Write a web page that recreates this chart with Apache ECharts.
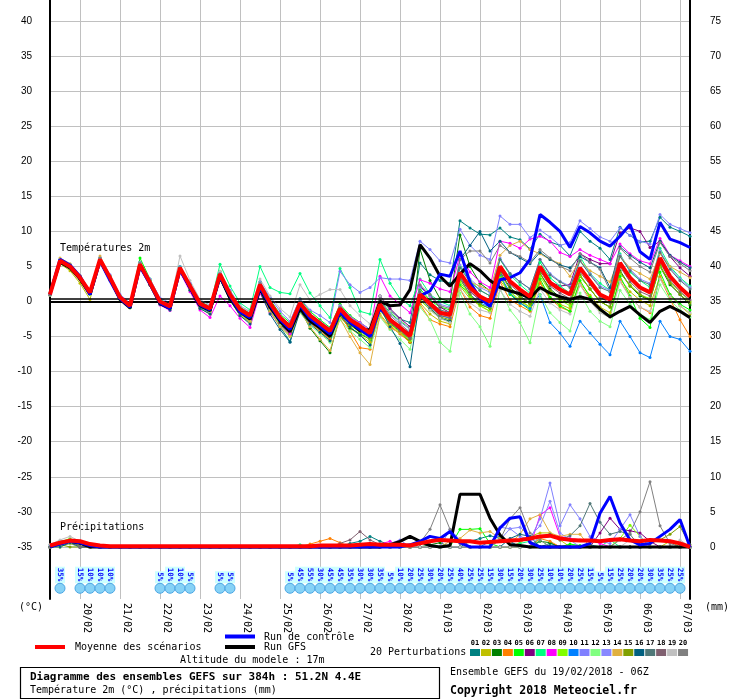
<!DOCTYPE html>
<html><head><meta charset="utf-8">
<script src="https://cdn.jsdelivr.net/npm/echarts@6/dist/echarts.min.js"></script>
<style>html,body{margin:0;padding:0;background:#fff}#c{width:740px;height:700px}</style>
</head><body><div id="c"></div>
<script>
// ---------- DATA ----------
const HOURS = [0,6,12,18,24,30,36,42,48,54,60,66,72,78,84,90,96,102,108,114,120,126,132,138,144,150,156,162,168,174,180,186,192,198,204,210,216,222,228,234,240,246,252,258,264,270,276,282,288,294,300,306,312,318,324,330,336,342,348,354,360,366,372,378,384];
const DAY_TICKS = [18,42,66,90,114,138,162,186,210,234,258,282,306,330,354,378];
const DAY_LABELS = ['20/02','21/02','22/02','23/02','24/02','25/02','26/02','27/02','28/02','01/03','02/03','03/03','04/03','05/03','06/03','07/03'];
const TEMP_TICKS = [-35,-30,-25,-20,-15,-10,-5,0,5,10,15,20,25,30,35,40];
const RIGHT_TICKS = [0,5,10,15,20,25,30,35,40,45,50,55,60,65,70,75];
const PERT_NAMES = ['01','02','03','04','05','06','07','08','09','10','11','12','13','14','15','16','17','18','19','20'];
const PERT_COLORS = ['#008080','#c0c000','#008000','#ff8000','#00ff00','#800080','#00ff80','#ff00ff','#80ff00','#0080ff','#8080ff','#80ff80','#8888ff','#e0b040','#80a000','#006080','#507878','#806070','#c0c0c0','#808080'];

// temperatures 2m (°C)
const T01 = [1.1,6.0,5.3,3.6,1.2,5.7,3.2,0.5,-0.8,5.0,2.4,-0.3,-1.0, 4.4,1.8,-0.8,-1.6,3.2,0.2,-1.8,-2.9,1.5,-1.3,-3.6,-5.7,-1.0, -2.8,-3.9,-5.2,-1.8,-3.2,-4.0,-5.1,0.8,-1.2,-2.5,-3.0,5.5,3.8, 3.0,2.6,11.5,10.5,9.6,9.5,10.5,9.2,8.8,7.5,9.6,8.5,8.0, 6.5,10.0,8.6,7.6,6.0,10.6,9.4,8.5,8.6,12.0,10.6,10.0,9.3];
const T02 = [0.9,5.4,4.4,2.6,0.3,5.6,3.0,0.3,-0.9,5.0,2.3,-0.4,-1.1, 4.3,1.6,-1.0,-1.8,3.4,0.2,-2.0,-3.0,1.6,-1.4,-3.4,-4.8,-1.0, -3.0,-4.2,-5.6,-2.2,-3.8,-4.8,-5.8,-1.8,-3.6,-4.6,-5.8,-0.2,-1.8, -2.8,-3.2,2.2,0.4,-0.6,-1.4,3.0,1.2,0.0,-0.8,2.8,0.6,-0.4, -1.0,2.6,0.9,-0.8,-1.6,3.2,1.4,0.2,-0.6,3.6,1.0,-0.6,-1.8];
const T03 = [1.0,5.6,4.9,3.4,1.4,6.1,3.6,0.8,-0.4,5.6,3.0,0.2,-0.6, 4.9,2.4,-0.2,-1.1,3.8,0.8,-1.4,-2.3,2.2,-0.8,-3.2,-4.6,-1.0, -3.8,-5.6,-7.3,-2.0,-3.8,-4.6,-5.4,-0.8,-3.2,-4.2,-5.8,7.5,3.0, 0.4,0.0,9.5,5.0,2.6,1.5,4.2,2.0,0.8,-0.3,4.0,1.8,0.6, 0.0,3.6,1.8,0.0,-0.8,4.4,2.2,0.8,0.2,5.0,2.4,1.0,-0.5];
const T04 = [1.0,5.5,4.8,3.2,1.1,5.9,3.3,0.6,-0.7,5.2,2.6,-0.1,-0.9, 4.6,2.0,-0.5,-1.3,3.6,0.6,-1.5,-2.4,2.0,-0.8,-3.0,-4.4,-1.2, -3.0,-4.2,-5.4,-1.6,-4.2,-6.6,-6.8,-1.0,-3.4,-4.6,-5.8,-0.4,-2.6, -3.2,-3.6,1.8,-0.8,-2.0,-2.4,2.8,0.2,-0.6,-1.4,2.6,0.4,-0.8, -1.4,2.4,0.4,-1.2,-2.0,3.0,0.6,-0.8,-1.6,3.4,0.4,-2.6,-5.0];
const T05 = [1.1,5.9,5.1,3.5,1.5,6.2,3.6,0.8,-0.4,6.2,3.2,0.3,-0.5, 5.0,2.4,0.0,-0.8,4.3,1.4,-0.8,-1.7,2.8,0.3,-1.8,-3.0,0.4, -1.4,-2.6,-3.7,-0.4,-2.0,-3.0,-4.0,0.2,-1.6,-2.8,-3.8,1.8,0.2, -0.8,-1.2,2.4,0.8,-0.4,-1.0,3.6,1.0,-0.2,-1.2,3.2,0.6,-0.6, -1.4,3.0,0.6,-1.2,-2.0,3.6,0.8,-2.4,-3.7,4.2,1.0,-0.4,-1.2];
const T06 = [1.0,5.7,4.9,3.3,1.2,5.9,3.2,0.5,-0.7,5.1,2.5,-0.2,-0.9, 4.5,1.9,-0.6,-1.4,3.5,0.6,-1.6,-2.5,1.8,-0.9,-3.0,-4.4,-0.8, -2.6,-3.8,-4.9,-1.4,-3.0,-4.0,-5.0,0.8,-1.0,-2.4,-3.6,2.2,0.8, -0.8,-1.6,3.4,1.4,0.2,-0.6,4.4,2.6,1.6,0.4,4.6,2.8,2.2, 2.4,6.8,6.0,5.4,5.4,9.8,10.5,10.0,7.7,8.6,6.4,4.8,3.6];
const T07 = [1.1,6.0,5.2,3.6,1.5,6.2,3.6,0.8,-0.5,5.6,3.0,0.3,-0.4, 5.0,2.5,0.0,-0.7,5.3,2.2,-0.2,-1.2,5.0,2.0,1.3,1.1,4.0, 1.2,-0.6,-2.3,4.7,2.0,-1.4,-1.8,6.0,2.6,0.4,-0.6,3.2,1.0, 0.0,-0.6,5.0,3.0,1.6,0.8,6.0,3.8,2.4,1.2,5.6,3.4,2.2, 1.2,6.4,4.0,2.6,1.6,6.8,4.2,3.0,2.0,7.6,5.0,3.4,2.2];
const T08 = [1.0,5.6,4.9,3.3,1.2,5.8,3.2,0.5,-0.8,5.0,2.4,-0.5,-1.3, 4.2,1.4,-1.2,-2.3,0.8,-0.6,-2.4,-3.7,1.2,-1.6,-3.4,-4.6,-0.6, -2.8,-3.8,-4.8,-0.6,-2.2,-3.0,-4.0,3.6,0.8,-0.4,-1.6,3.1,2.6, 1.8,1.4,6.6,4.2,2.8,2.0,8.6,8.3,7.6,8.9,9.3,8.6,7.0, 6.4,7.4,6.6,6.0,5.4,8.2,6.8,5.8,5.4,9.0,6.6,5.8,5.0];
const T09 = [1.0,5.8,5.0,3.5,1.4,6.1,3.5,0.7,-0.5,5.4,2.9,0.1,-0.6, 4.8,2.2,-0.4,-1.0,3.8,0.8,-1.4,-2.3,2.2,-0.6,-2.8,-4.2,-0.8, -2.6,-3.8,-5.0,-1.6,-3.4,-4.4,-5.4,-1.2,-3.2,-4.4,-5.6,0.2,-1.2, -2.4,-2.8,2.8,0.8,-0.6,-1.4,3.4,1.4,0.2,-0.8,3.6,1.4,0.2, -0.6,3.6,1.8,0.0,-0.8,4.0,2.4,1.0,0.4,5.0,2.8,1.4,0.0];
const T10 = [1.0,5.7,4.9,3.3,1.2,5.9,3.3,0.5,-0.7,5.2,2.6,-0.1,-0.8, 4.7,2.1,-0.5,-1.2,3.7,0.8,-1.3,-2.2,2.2,-0.6,-2.8,-4.0,-0.6, -2.4,-3.6,-4.8,-1.2,-3.0,-4.0,-5.0,-0.6,-2.8,-4.0,-5.2,0.6,-0.8, -2.0,-2.4,3.2,1.0,-0.2,-0.8,3.8,1.2,-0.2,-1.0,1.0,-3.0,-4.5, -6.4,-2.8,-4.5,-6.1,-7.6,-2.8,-5.0,-7.3,-8.0,-2.8,-5.0,-5.4,-7.1];
const T11 = [1.1,5.9,5.2,3.7,1.6,6.3,3.8,1.0,-0.2,5.6,3.2,0.5,-0.2, 5.0,2.6,0.2,-0.5,4.2,1.6,-0.6,-1.5,2.8,0.6,-1.4,-2.8,0.4, -1.2,-2.0,-3.0,4.3,2.4,1.3,2.0,3.4,3.2,3.2,3.0,8.6,7.4, 5.8,5.5,10.3,8.0,6.6,6.0,12.2,11.0,11.0,9.1,10.2,9.2,8.0, 8.4,11.5,10.4,9.2,8.6,10.5,9.4,8.6,8.2,12.4,11.0,10.4,9.8];
const T12 = [0.9,5.5,4.7,3.1,1.0,5.7,3.1,0.3,-0.9,5.0,2.4,-0.3,-1.0, 4.4,1.8,-0.7,-1.5,3.4,0.4,-1.8,-2.8,1.6,-1.2,-3.4,-5.0,-1.6, -3.4,-4.6,-5.8,-2.6,-4.2,-5.4,-6.6,-2.2,-4.0,-5.4,-6.8,-0.8,-2.6, -5.8,-7.1,1.2,-1.8,-3.6,-6.4,1.8,-1.2,-3.0,-5.9,1.0,-1.6,-3.0, -4.2,1.2,-1.4,-2.8,-3.6,1.6,-0.4,-1.8,-2.6,2.4,0.2,-1.2,-2.2];
const T13 = [1.0,5.9,5.1,3.5,1.4,6.1,3.5,0.7,-0.5,5.4,2.8,0.2,-0.5, 4.9,2.3,-0.2,-0.8,4.0,1.1,-0.9,-1.8,2.6,0.0,-2.0,-3.3,0.1, -1.7,-2.8,-3.8,-0.6,-2.2,-3.1,-4.0,0.2,-1.8,-2.9,-4.0,2.0,0.8, -0.4,-0.8,5.2,3.2,2.0,1.3,6.2,4.0,2.8,1.8,6.0,4.0,2.9, 2.2,5.8,4.0,2.2,1.6,6.6,4.6,3.2,2.6,7.2,4.8,3.2,2.0];
const T14 = [1.2,6.2,5.4,3.7,1.3,6.5,3.6,0.6,-0.7,5.2,2.6,-0.2,-0.9, 4.6,2.0,-0.6,-1.4,3.4,0.4,-1.8,-2.8,1.6,-1.4,-3.6,-5.0,-1.4, -3.6,-5.4,-7.0,-2.4,-5.0,-7.3,-9.0,-2.0,-3.8,-4.4,-5.0,0.6,-0.8, -1.8,-2.2,3.4,2.8,2.2,1.6,6.6,8.0,8.6,7.4,6.8,6.0,5.4, 3.6,5.8,4.4,3.6,2.8,6.4,4.8,4.0,3.2,6.8,5.0,4.2,3.4];
const T15 = [1.0,5.7,4.9,3.3,1.2,5.9,3.3,0.5,-0.7,5.2,2.6,-0.1,-0.8, 4.6,2.0,-0.5,-1.3,3.6,0.7,-1.4,-2.3,2.1,-0.6,-2.7,-4.0,-0.6, -2.5,-3.6,-4.8,-1.6,-3.2,-4.2,-5.2,-1.0,-3.0,-4.2,-5.4,0.4,-1.0, -2.2,-2.6,3.2,1.0,-0.4,-1.0,4.0,1.8,0.6,-0.4,4.0,1.6,0.4, -0.2,3.8,1.8,0.0,-0.8,4.2,2.2,1.0,0.2,5.2,2.6,1.0,-0.2];
const T16 = [1.0,5.6,4.8,3.2,1.1,5.8,3.2,0.4,-0.9,5.0,2.4,-0.4,-1.2, 4.4,1.6,-1.0,-1.8,3.2,0.2,-2.0,-3.2,1.4,-1.8,-4.0,-5.8,-1.4, -3.2,-4.4,-5.6,-1.8,-3.6,-4.8,-6.2,-0.8,-3.6,-6.0,-9.3,0.6,-1.0, -2.4,-2.8,6.0,8.0,10.0,7.2,8.6,7.0,6.2,5.4,7.0,6.0,5.2, 4.8,6.4,5.6,4.8,2.0,7.8,6.6,5.6,4.8,8.6,6.6,5.6,4.8];
const T17 = [1.0,5.8,5.0,3.4,1.3,6.0,3.4,0.6,-0.6,5.3,2.6,-0.1,-0.8, 4.7,2.1,-0.4,-1.1,3.8,0.9,-1.2,-2.1,2.3,-0.4,-2.5,-3.8,-0.4, -2.2,-3.3,-4.4,-1.2,-2.8,-3.7,-4.7,-0.6,-2.8,-3.9,-5.1,1.4,0.0, -1.2,-1.6,4.8,2.8,1.6,0.8,6.0,4.0,2.8,1.8,6.0,3.8,2.8, 2.0,5.8,3.8,2.0,1.4,6.4,4.4,3.0,2.4,7.0,4.6,3.0,1.8];
const T18 = [1.0,5.7,4.9,3.3,1.2,5.9,3.3,0.5,-0.7,5.2,2.6,-0.1,-0.8, 4.7,2.0,-0.5,-1.2,3.7,0.8,-1.3,-2.2,2.2,-0.5,-2.6,-3.9,-0.5, -2.4,-3.5,-4.6,-1.4,-3.0,-3.9,-4.9,-0.8,-3.0,-4.1,-5.3,0.8,-0.6, -2.0,-2.3,3.6,1.5,0.2,-0.5,4.5,2.4,1.2,0.2,4.4,2.2,1.2, 0.4,4.2,2.4,0.6,-0.2,5.0,2.8,1.4,0.8,5.6,3.0,1.4,0.2];
const T19 = [1.0,5.9,5.1,3.5,1.3,6.1,3.5,0.7,-0.5,5.5,2.9,0.2,-0.5, 6.5,3.0,0.3,-0.6,4.3,1.4,-0.6,-1.4,3.2,0.8,-1.0,-2.2,2.4, 0.2,1.0,1.7,1.7,-0.6,-2.0,-3.2,0.8,-1.4,-2.6,-3.8,0.6,-1.2, -2.4,-3.0,1.8,-0.2,-1.2,-1.6,1.6,-0.4,-1.4,-2.1,1.8,-0.2,-1.2, -1.8,2.4,0.0,-1.6,-2.3,2.8,0.6,-0.8,-1.4,3.2,0.8,-0.6,-1.6];
const T20 = [0.9,5.9,5.2,3.6,1.4,6.2,3.6,0.8,-0.5,5.5,2.9,0.2,-0.6, 4.9,2.4,-0.1,-0.9,4.0,1.2,-1.0,-1.9,2.6,0.0,-2.1,-3.4,0.0, -1.8,-2.9,-4.0,-0.8,-2.4,-3.3,-4.2,0.2,-2.0,-3.2,-4.4,2.4,1.0, -0.6,-1.0,6.0,7.2,7.2,5.5,8.0,7.0,6.4,5.6,7.4,6.2,5.0, 4.4,6.8,5.6,4.6,1.5,7.6,6.2,5.0,4.2,8.4,6.4,5.4,4.4];
const T_CTRL = [1.0,6.0,5.2,3.6,1.0,5.8,3.0,0.4,-0.8,5.0,2.5,-0.2,-1.0, 4.5,2.0,-0.5,-1.2,3.6,0.8,-1.5,-2.3,2.0,-0.5,-2.6,-4.0,-0.5, -2.4,-3.5,-4.6,-1.5,-3.0,-4.0,-5.0,-1.0,-2.5,-3.8,-4.7,0.8,1.5, 3.9,3.6,7.2,2.7,0.5,-0.7,3.1,3.4,4.1,6.0,12.4,11.3,10.0, 7.7,10.7,9.8,8.6,7.9,9.3,11.0,7.1,6.0,11.3,8.9,8.4,7.7];
const T_GFS = [1.2,5.6,4.8,3.2,1.0,5.8,3.2,0.3,-0.9,5.1,2.5,-0.3,-1.0, 4.6,2.0,-0.6,-1.3,3.5,0.5,-1.5,-2.5,1.8,-0.8,-2.8,-4.3,-1.0, -2.8,-3.8,-5.0,-1.5,-3.0,-4.2,-4.0,0.0,-0.6,-0.5,1.7,8.1,6.2, 3.6,2.2,3.9,5.4,4.4,3.0,2.0,1.5,1.1,0.5,2.0,1.2,0.7, 0.3,0.7,0.3,-1.1,-2.2,-1.4,-0.7,-1.9,-3.0,-1.4,-0.7,-1.4,-2.3];
const T_MEAN = [1.0,5.8,5.0,3.4,1.3,6.0,3.4,0.6,-0.6,5.3,2.7,0.0,-0.7, 4.8,2.2,-0.3,-1.0,3.9,1.0,-1.1,-2.0,2.4,-0.2,-2.3,-3.6,-0.2, -2.0,-3.1,-4.2,-1.0,-2.6,-3.5,-4.5,-0.4,-2.6,-3.7,-4.9,1.0,-0.3, -1.6,-1.9,4.1,2.0,0.7,0.0,5.0,2.9,1.7,0.7,5.0,2.7,1.7, 1.0,4.8,2.9,1.0,0.3,5.5,3.4,2.0,1.3,6.2,3.6,2.0,0.7];

// precipitation (mm)
const R01 = [0.3,0.8,1.0,0.6,0,0,0,0,0,0,0,0,0, 0,0,0,0,0,0,0,0,0,0,0,0,0, 0,0,0,0,0.5,0.8,1.5,0.8,0.3,0,0,0,0, 0,0,0,0.8,1.2,1.6,1.2,0.8,0,0,0,0.5,0, 0,0,0.3,0,0,0,0,0,0,0,0,0,0];
const R02 = [0,0.4,0.6,0.4,0,0,0,0,0,0,0,0,0, 0,0,0,0,0,0,0,0,0,0,0,0,0, 0,0,0,0,0,0,0,0,0,0,0,0,0, 0,0,0,0,0,0,0,0,0.6,1.5,2.0,2.0,1.0, 0,0,0,0,0,0,0,0,0,0,0.8,0,0];
const R03 = [0,0.5,0.8,0.6,0,0,0,0,0,0,0,0,0, 0,0,0,0,0,0,0,0,0,0,0,0,0, 0,0,0,0,0,0,0,0,0,0,0,0,0.3, 0.6,0,0,0,0,0,0,0,0,0,0.8,0.6,0, 0,0,0,0,0,0,0,0,0,0,0,0,0];
const R04 = [0,0.3,0.6,0,0,0,0,0,0,0,0,0,0, 0,0,0,0,0,0,0,0,0,0,0,0,0, 0.4,0.8,1.2,0.6,0,0,0,0,0,0,0,0,0, 0,0,0,0,0,0,0,0,0,0,1.2,0.8,0, 0,0,0,0,0,0,0,0,0,0,0,0,0];
const R05 = [0,0.6,1.0,0.7,0,0,0,0,0,0,0,0,0, 0,0,0,0,0,0,0,0,0,0,0,0,0, 0,0,0,0,0,0,0,0,0,0,0,0,0, 0,0,2.5,2.5,2.6,0.5,0,0,0,0,0,0,0, 0.4,0.2,0,0,0,0,0,0,0,0,0,0,0];
const R06 = [0,0.4,0.7,0,0,0,0,0,0,0,0,0,0, 0,0,0,0,0,0,0,0,0,0,0,0,0, 0,0,0,0,0,0,0,0,0,0,0,0,0, 0,0,0,0,0,0,0,0,0,0,0,0,0, 0,0,0,2.0,4.1,2.5,2.3,2.0,0.8,0,0,0,0];
const R07 = [0,0.5,0.8,0,0,0,0,0,0,0,0,0,0, 0,0,0,0,0,0,0,0,0,0,0,0,0.3, 0,0,0,0,0,0,0,0,0,0,0,0,0, 0,0,0,0,0,0,0,0,0.5,0.8,0,0,0, 0,0,0,0,1.0,0,0,0,0,0,0,0,0];
const R08 = [0,0.3,0.6,0,0,0,0,0,0,0,0,0,0, 0,0,0,0,0,0,0,0,0,0,0,0,0, 0,0,0,0,0,0,0,0.4,0.8,0,0,0,0, 0,0,0,0,0,0,0,0,0,0,4.5,5.6,1.5, 1.2,1.0,1.0,0.5,0,0,0,0,0,0,0,0,0];
const R09 = [0,0.7,1.2,0,0,0,0,0,0,0,0,0,0, 0,0,0,0,0,0,0,0,0,0,0,0,0, 0,0,0,0,0,0,0,0,0,0,0,0,0, 0,0,0,0,0,0,0,0,0,0,0,0,0, 0,0,0,0,0,1.2,3.1,1.5,0,0,0,0,0];
const R10 = [0,0.3,0.5,0,0,0,0,0,0,0,0,0,0, 0,0,0,0,0,0,0,0,0,0,0,0,0, 0,0,0,0,0,0,0,0,0,0,0,0,0, 0,0,0,0,0,0.8,1.6,0.6,0,0,0,0,0, 0,0,0,0,0,0,0,0,0,0,0,0,0];
const R11 = [0,0.5,0.8,0,0,0,0,0,0,0,0,0,0, 0,0,0,0,0,0,0,0,0,0,0,0,0, 0,0,0,0,0,0,0,0,0.5,1.0,0,0,0, 0,2.5,1.0,0,0,0,2.8,2.6,1.5,1.0,4.0,9.1,3.0, 6.0,4.0,1.5,0.8,0.5,2.5,4.6,1.5,0,0,0,0,0];
const R12 = [0,0,0.5,0,0,0,0,0,0,0,0,0,0, 0,0,0,0,0,0,0,0,0,0,0,0,0, 0,0,0,0,0,0,0,0,0,0,0,0,0, 0,0,0,0,0,0,0,0,0,0,1.0,0,0, 0,0,0,0,0,0,0,0,0,0,0,0,0];
const R13 = [0,0.4,0.7,0,0,0,0,0,0,0,0,0,0, 0,0,0,0,0,0,0,0,0,0,0,0,0, 0,0,0,0,0,0,0,0,0,0,0,0,0, 0,0,0,0,0,0,1.0,2.6,2.8,1.5,3.0,6.5,2.0, 1.0,0,0,0,0,0,0,0,0,0,0,0,0];
const R14 = [0,0,0.5,0,0,0,0,0,0,0,0,0,0, 0,0,0,0,0,0,0,0,0,0,0,0,0, 0,0,0,0,0,0,0,0,0,0,0,0,0, 0,0.8,1.2,2.4,2.0,2.2,1.2,0.5,1.8,4.0,4.6,2.0,1.5, 1.8,1.8,0,0,0,0,0,0,0,0,0,0,0];
const R15 = [0,0.3,0,0,0,0,0,0,0,0,0,0,0, 0,0,0,0,0,0,0,0,0,0,0,0,0, 0,0,0,0,0,0,0,0,0,0,0,0,0, 0,0,0,0,0,0,0,0,0,0,0,0,0, 0,0,0,0,0,0,0,0,0.5,1.0,1.8,2.9,0.3];
const R16 = [0,0,0.6,0,0,0,0,0,0,0,0,0,0, 0,0,0,0,0,0,0,0,0,0,0,0,0, 0,0,0,0,0,0,0,0,0,0,0,0,0, 0,0,0,0,0,0,0,1.2,1.8,1.5,0,0,0, 0,0,0,0,0,0,0,0,0,0,0,0,0];
const R17 = [0,0.5,0.8,0,0,0,0,0,0,0,0,0,0, 0,0,0,0,0,0,0,0,0,0,0,0,0, 0,0,0,0,0,0,0,0,0,0,0,0,0, 0,0,0,0,0,0,0,0,0,0,1.5,1.8,1.0, 1.6,3.0,6.2,3.5,1.8,2.2,1.8,0,0,0,0,0,0];
const R18 = [0,0.6,1.0,0,0,0,0,0,0,0,0,0,0, 0,0,0,0,0,0,0,0,0,0,0,0,0, 0,0,0,0.5,1.0,2.2,1.0,0.3,0,0,0,0,0, 0,0,0,0,0,0,0,0,0,0,0,0,0, 0,0,0,0,0,0,0,0,0,0,0,0,0];
const R19 = [0.3,1.0,1.5,0.8,0,0,0,0,0,0,0,0,0, 0,0,0,0,0,0,0,0,0,0,0,0,0, 0,0,0,0,0,0,0,0,0,0,0,0,0, 0,0,0,0,0,0,0,0,0,0,0,0,0, 0,0,0,0,0,0,1.0,0.5,0,0,0,1.0,0];
const R20 = [0,0.5,1.0,0.5,0,0,0,0,0,0,0,0,0, 0,0,0,0,0,0,0,0,0,0,0,0,0, 0,0,0,0,0,0,0,0,0,0,0,0.6,2.5, 6.0,2.5,0.5,0,0,0,1.0,4.0,5.6,2.0,1.0,0,0, 0,0,0,0,0,1.0,2.0,5.0,9.3,3.0,0.5,0,0];
const R_CTRL = [0,0.4,0.8,0.6,0.2,0,0,0,0,0,0,0,0, 0,0,0,0,0,0,0,0,0,0,0,0,0, 0,0,0,0,0,0,0,0,0,0,0.3,0.8,1.5, 1.2,2.2,0.6,0,0,0,2.7,4.1,4.3,0.6,0,0,0, 0,0,0.5,4.8,7.2,3.4,1.0,0.3,0.5,1.5,2.5,3.9,0];
const R_GFS = [0,0.5,0.8,0.5,0,0,0,0,0,0,0,0,0, 0,0,0,0,0,0,0,0,0,0,0,0,0, 0,0,0,0,0,0,0,0,0.3,0.8,1.5,0.8,0.2, 0,0.2,7.5,7.5,7.5,4.1,1.7,0.3,0.2,0,0,0,0, 0,0,0,0,0,0,0,0,0,0,0,0,0];
const R_MEAN = [0.2,0.6,0.9,0.8,0.4,0.2,0.1,0.1,0.1,0.1,0.1,0.1,0.1, 0.1,0.1,0.1,0.1,0.1,0.1,0.1,0.1,0.1,0.1,0.1,0.1,0.1, 0.1,0.2,0.2,0.2,0.2,0.3,0.4,0.3,0.3,0.3,0.2,0.5,0.8, 1.0,0.9,0.8,0.8,0.6,0.7,0.8,0.9,1.0,1.2,1.5,1.6,1.2, 1.0,0.9,0.9,0.8,1.0,1.1,0.9,0.8,1.0,0.9,0.8,0.5,0.0];

// snow probability labels
const SNOW_HOURS = [6,18,24,30,36,66,72,78,84,102,108, 144,150,156,162,168,174,180,186,192,198,204,210,216,222,228,234,240,246,252,258,264,270,276,282,288,294,300,306,312,318,324,330,336,342,348,354,360,366,372,378];
const SNOW_PCT = [35,15,10,10,10,5,10,10,5,5,5, 5,45,55,30,45,45,35,30,30,35,5,10,20,25,30,20,25,40,25,25, 15,30,15,20,30,25,10,10,20,25,15,5,15,25,20,20,30,35,25,25];

const T_PERTS = [T01,T02,T03,T04,T05,T06,T07,T08,T09,T10,T11,T12,T13,T14,T15,T16,T17,T18,T19,T20];
const R_PERTS = [R01,R02,R03,R04,R05,R06,R07,R08,R09,R10,R11,R12,R13,R14,R15,R16,R17,R18,R19,R20];

// ---------- CHART ----------
const MONO = '"DejaVu Sans Mono", monospace';
const SANS = '"Liberation Sans", Arial, sans-serif';
const SNOW_ROW = -40.9;
const pts = arr => HOURS.map((h, i) => [h, arr[i]]);

const series = [];
T_PERTS.forEach((arr, i) => series.push({
  type: 'line', yAxisIndex: 0, data: pts(arr), symbol: 'circle', symbolSize: 3, showAllSymbol: true,
  lineStyle: { width: 1, color: PERT_COLORS[i] }, itemStyle: { color: PERT_COLORS[i] }, z: 2, silent: true
}));
R_PERTS.forEach((arr, i) => series.push({
  type: 'line', yAxisIndex: 1, data: pts(arr), symbol: 'circle', symbolSize: 3, showAllSymbol: true,
  lineStyle: { width: 1, color: PERT_COLORS[i] }, itemStyle: { color: PERT_COLORS[i] }, z: 2, silent: true
}));
const thick = (arr, axis, color, w, z) => ({
  type: 'line', yAxisIndex: axis, data: pts(arr), showSymbol: false,
  lineStyle: { width: w, color: color }, itemStyle: { color: color }, z: z, silent: true
});
const gfsT = thick(T_GFS, 0, '#000000', 3, 4);
gfsT.markLine = { silent: true, symbol: 'none', label: { show: false },
  lineStyle: { color: '#000', width: 1.5, type: 'solid' }, data: [{ yAxis: 0 }, { yAxis: 0.4 }] };
series.push(gfsT);
series.push(thick(T_CTRL, 0, '#0000ff', 3, 5));
series.push(thick(T_MEAN, 0, '#ff0000', 4, 6));
series.push(thick(R_GFS, 1, '#000000', 3, 4));
series.push(thick(R_CTRL, 1, '#0000ff', 3, 5));
series.push(thick(R_MEAN, 1, '#ff0000', 4, 6));

series.push({
  type: 'custom', xAxisIndex: 0, yAxisIndex: 0, z: 7, silent: true,
  data: SNOW_HOURS.map((h, i) => [h, SNOW_PCT[i]]),
  renderItem: (params, api) => {
    const p = api.coord([api.value(0), SNOW_ROW]);
    return { type: 'group', children: [
      { type: 'text', x: p[0], y: p[1] - 5, rotation: -Math.PI / 2,
        style: { text: api.value(1) + '%', fill: '#0000ff', font: 'bold 7.5px ' + MONO,
          align: 'right', verticalAlign: 'middle', backgroundColor: '#ccffff', padding: [1, 2, 1, 1] } },
      { type: 'circle', shape: { cx: p[0], cy: p[1], r: 5 },
        style: { fill: '#86d2f6', stroke: '#4aa6e4', lineWidth: 1 } }
    ] };
  }
});

const txt = (x, y, s, font, extra) => ({ type: 'text', x: x, y: y, silent: true,
  style: Object.assign({ text: s, font: font, fill: '#000', align: 'left', verticalAlign: 'middle' }, extra || {}) });
const seg = (x1, y1, x2, y2, color, w) => ({ type: 'line', silent: true,
  shape: { x1: x1, y1: y1, x2: x2, y2: y2 }, style: { stroke: color, lineWidth: w } });

const graphic = [
  txt(19, 607, '(°C)', '10px ' + MONO),
  txt(705, 607, '(mm)', '10px ' + MONO),
  txt(60, 248, 'Températures 2m', '10px ' + MONO),
  txt(60, 527, 'Précipitations', '10px ' + MONO),
  seg(225, 636.5, 255, 636.5, '#0000ff', 4),
  txt(264, 637, 'Run de contrôle', '10px ' + MONO),
  seg(35, 647, 65, 647, '#ff0000', 4),
  txt(75, 647, 'Moyenne des scénarios', '10px ' + MONO),
  seg(225, 647, 255, 647, '#000000', 4),
  txt(264, 647, 'Run GFS', '10px ' + MONO),
  txt(180, 660, 'Altitude du modele : 17m', '10px ' + MONO),
  { type: 'rect', silent: true, shape: { x: 20.5, y: 667.5, width: 419, height: 31 },
    style: { fill: 'none', stroke: '#000', lineWidth: 1.2 } },
  txt(30, 677.5, 'Diagramme des ensembles GEFS sur 384h : 51.2N 4.4E', 'bold 11px ' + MONO),
  txt(30, 690.5, 'Température 2m (°C) , précipitations (mm)', '10px ' + MONO),
  txt(370, 652, '20 Perturbations', '10px ' + MONO),
  txt(450, 672, 'Ensemble GEFS du 19/02/2018 - 06Z', '10px ' + MONO),
  txt(450, 691, 'Copyright 2018 Meteociel.fr', 'bold 11.5px ' + MONO)
];
PERT_COLORS.forEach((c, i) => {
  const x = 470 + i * 10.95;
  graphic.push({ type: 'rect', silent: true, shape: { x: x, y: 649, width: 10, height: 7 }, style: { fill: c } });
  graphic.push(txt(x + 5, 643.5, PERT_NAMES[i], 'bold 7px ' + MONO, { align: 'center' }));
});

const option = {
  animation: false,
  backgroundColor: '#ffffff',
  grid: { left: 50, right: 50, top: 0, bottom: 101, containLabel: false },
  xAxis: {
    type: 'value', min: 0, max: 384,
    axisLine: { show: true, lineStyle: { color: '#000', width: 2 } },
    axisTick: { show: false, customValues: DAY_TICKS },
    axisLabel: { customValues: DAY_TICKS, rotate: -90, margin: 4, verticalAlign: 'bottom', padding: [0, 0, 2, 0],
      color: '#000', fontFamily: 'DejaVu Sans Mono', fontSize: 10,
      formatter: v => DAY_LABELS[DAY_TICKS.indexOf(v)] || '' },
    splitLine: { show: true, lineStyle: { color: '#c0c0c0', width: 1 } }
  },
  yAxis: [
    { type: 'value', min: -42.43, max: 43, position: 'left',
      axisLine: { show: true, lineStyle: { color: '#000', width: 2 } },
      axisTick: { show: false, customValues: TEMP_TICKS },
      axisLabel: { customValues: TEMP_TICKS, margin: 18, color: '#000', fontFamily: 'Liberation Sans', fontSize: 10 },
      splitLine: { show: true, lineStyle: { color: '#c0c0c0', width: 1 } } },
    { type: 'value', min: -7.43, max: 78, position: 'right',
      axisLine: { show: true, lineStyle: { color: '#000', width: 2 } },
      axisTick: { show: false, customValues: RIGHT_TICKS },
      axisLabel: { customValues: RIGHT_TICKS, margin: 20, color: '#000', fontFamily: 'Liberation Sans', fontSize: 10 },
      splitLine: { show: false } }
  ],
  graphic: graphic,
  series: series
};
const chart = echarts.init(document.getElementById('c'));
chart.setOption(option);
</script></body></html>
